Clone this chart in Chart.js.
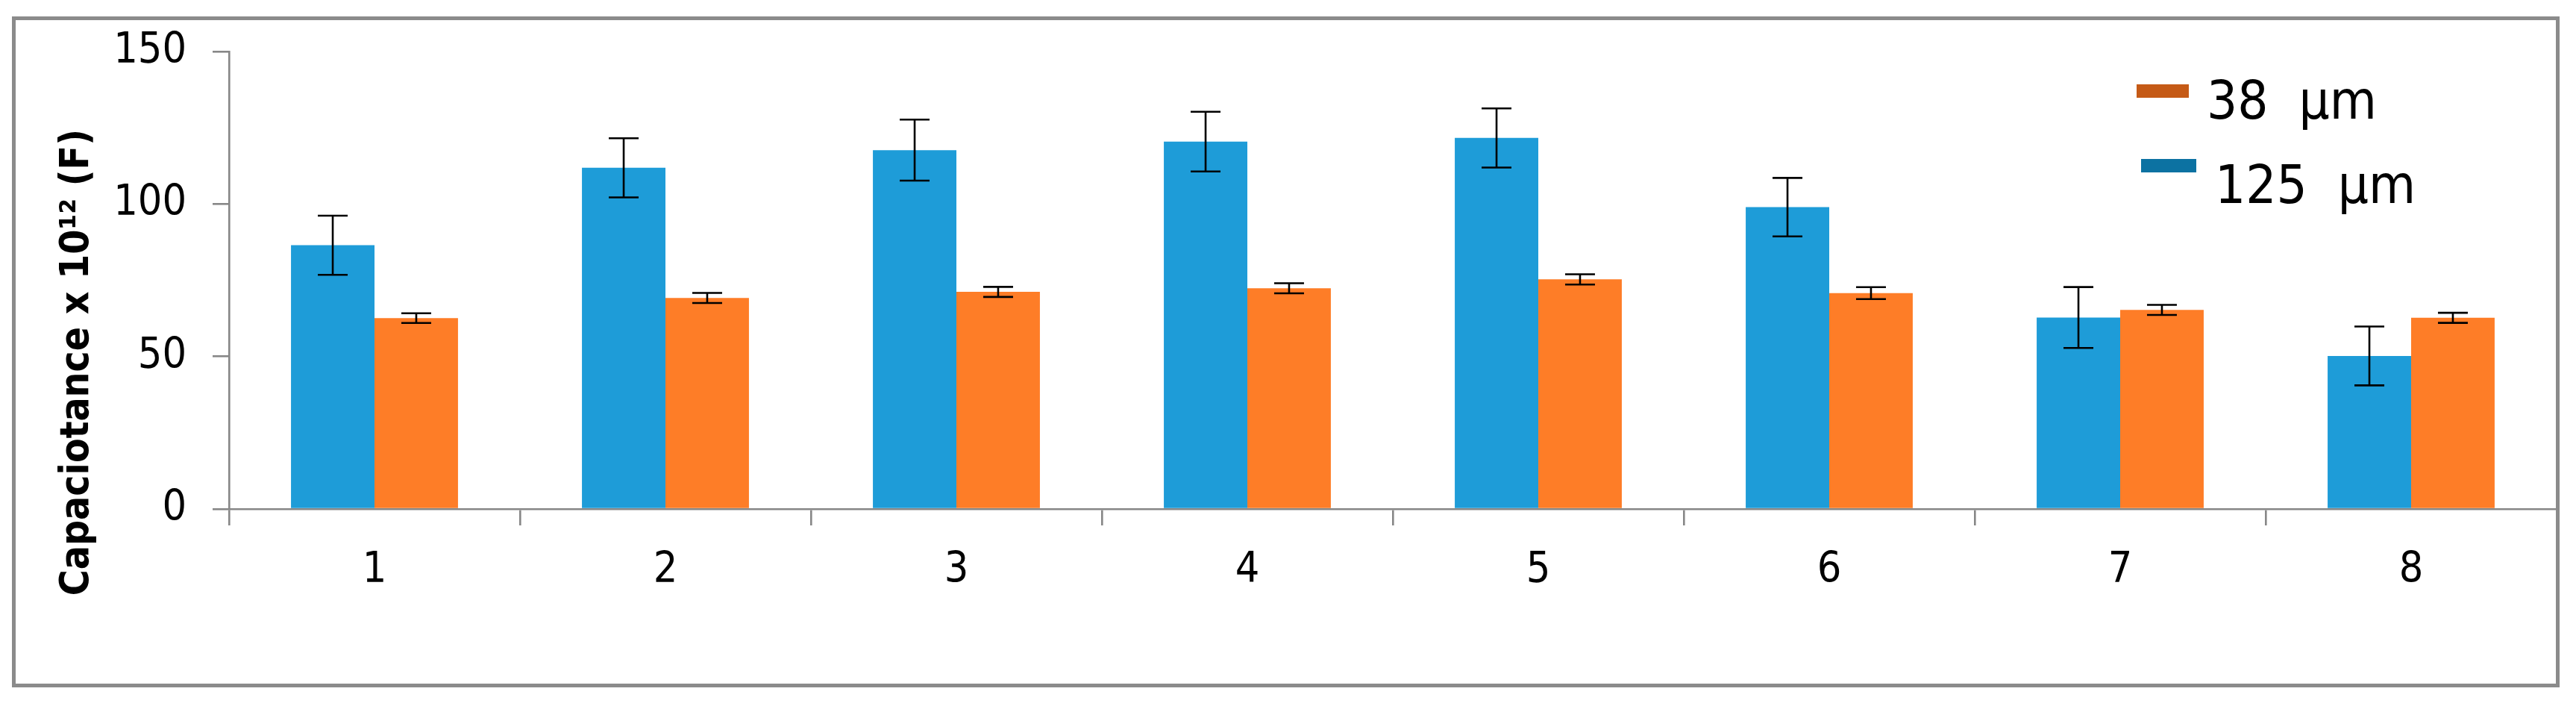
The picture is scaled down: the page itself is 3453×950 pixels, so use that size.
<!DOCTYPE html>
<html>
<head>
<meta charset="utf-8">
<script src="https://cdn.jsdelivr.net/npm/chart.js@4/dist/chart.umd.min.js"></script>
<style>
  html, body { margin: 0; padding: 0; background: #ffffff; }
  #wrap { width: 3453px; height: 950px; }
</style>
</head>
<body>
<div id="wrap"><canvas id="c" width="3453" height="950"></canvas></div>
<script>
// ---- data ----
const categories = ['1', '2', '3', '4', '5', '6', '7', '8'];
const series125Label = '125  µm';
const series38Label = '38  µm';
const values125 = [86.5, 111.9, 117.7, 120.5, 121.7, 99.0, 62.8, 50.2];
const errors125 = [9.7, 9.7, 10.0, 9.8, 9.7, 9.6, 10.0, 9.65];
const values38 = [62.6, 69.2, 71.2, 72.4, 75.3, 70.8, 65.3, 62.7];
const errors38 = [1.6, 1.65, 1.65, 1.65, 1.7, 1.95, 1.65, 1.65];
const yTicks = [0, 50, 100, 150];
const yTitle = 'Capaciotance x 10¹² (F)';

// ---- styles ----
const FONT = "'DejaVu Sans Condensed', 'DejaVu Sans', sans-serif";
const AXIS_GRAY = '#878787';
const BLUE = '#1e9cd8';
const ORANGE = '#fe7d27';
const LEGEND_BLUE = '#0c72a2';
const LEGEND_ORANGE = '#c55a16';

const bgPlugin = {
  id: 'bg',
  beforeDraw(chart) {
    const ctx = chart.ctx;
    ctx.save();
    ctx.fillStyle = '#ffffff';
    ctx.fillRect(0, 0, chart.width, chart.height);
    ctx.restore();
  },
  afterDraw(chart) {
    const ctx = chart.ctx;
    ctx.save();
    ctx.strokeStyle = '#8b8b8b';
    ctx.lineWidth = 5;
    ctx.strokeRect(18.5, 24.5, 3410, 894);
    ctx.restore();
  }
};

const errorBarPlugin = {
  id: 'errorBars',
  afterDatasetsDraw(chart) {
    const ctx = chart.ctx;
    const yScale = chart.scales.y;
    ctx.save();
    ctx.strokeStyle = '#000000';
    ctx.lineWidth = 2.6;
    chart.data.datasets.forEach((ds, i) => {
      const meta = chart.getDatasetMeta(i);
      meta.data.forEach((bar, j) => {
        const v = ds.data[j];
        const e = ds.errors[j];
        const x = bar.x;
        const yTop = yScale.getPixelForValue(v + e);
        const yBot = yScale.getPixelForValue(v - e);
        const half = 20;
        ctx.beginPath();
        ctx.moveTo(x, yTop); ctx.lineTo(x, yBot);
        ctx.moveTo(x - half, yTop); ctx.lineTo(x + half, yTop);
        ctx.moveTo(x - half, yBot); ctx.lineTo(x + half, yBot);
        ctx.stroke();
      });
    });
    ctx.restore();
  }
};

// legend entries in the order shown (38 first, then 125)
const legendItems = [
  { datasetIndex: 1, color: LEGEND_ORANGE, box: [2864, 113, 70, 18], text: [2958, 159] },
  { datasetIndex: 0, color: LEGEND_BLUE, box: [2870, 213, 74, 18], text: [2969, 272] }
];
const legendPlugin = {
  id: 'customLegend',
  afterDraw(chart) {
    const ctx = chart.ctx;
    ctx.save();
    ctx.font = '72px ' + FONT;
    ctx.textBaseline = 'alphabetic';
    ctx.textAlign = 'left';
    legendItems.forEach(it => {
      const ds = chart.data.datasets[it.datasetIndex];
      ctx.fillStyle = it.color;
      ctx.fillRect(it.box[0], it.box[1], it.box[2], it.box[3]);
      ctx.fillStyle = '#000000';
      ctx.fillText(ds.label, it.text[0], it.text[1]);
    });
    ctx.restore();
  }
};

const TITLE_SHIFT = 110;

new Chart(document.getElementById('c'), {
  type: 'bar',
  data: {
    labels: categories,
    datasets: [
      { label: series125Label, data: values125, errors: errors125, backgroundColor: BLUE, borderWidth: 0 },
      { label: series38Label, data: values38, errors: errors38, backgroundColor: ORANGE, borderWidth: 0 }
    ]
  },
  options: {
    responsive: false,
    animation: false,
    devicePixelRatio: 1,
    layout: { padding: { left: 68, right: 26, top: 62, bottom: 118 } },
    datasets: { bar: { categoryPercentage: 0.574, barPercentage: 1.0 } },
    plugins: { legend: { display: false }, tooltip: { enabled: false } },
    scales: {
      x: {
        grid: { display: true, drawOnChartArea: false, drawTicks: true, tickLength: 22, color: AXIS_GRAY, lineWidth: 2.6, offset: true },
        border: { display: true, color: AXIS_GRAY, width: 2.6 },
        ticks: { color: '#000000', font: { family: FONT, size: 57 }, padding: 27, autoSkip: false, maxRotation: 0 },
        afterFit(scale) { scale.height = 150; }
      },
      y: {
        min: 0, max: 150,
        afterBuildTicks(scale) { scale.ticks = yTicks.map(v => ({ value: v })); },
        grid: { display: true, drawOnChartArea: false, drawTicks: true, tickLength: 22, color: AXIS_GRAY, lineWidth: 2.6 },
        border: { display: true, color: AXIS_GRAY, width: 2.6 },
        ticks: { color: '#000000', font: { family: FONT, size: 57 }, padding: 35 },
        title: { display: true, text: yTitle, color: '#000000', font: { family: FONT, size: 53, weight: 'bold' }, padding: { top: 4, bottom: 4 } },
        afterFit(scale) {
          scale.width = 239;
          if (!scale._titlePatched) {
            const orig = scale.drawTitle;
            scale.drawTitle = function () {
              const ctx = this.ctx;
              ctx.save();
              ctx.translate(0, TITLE_SHIFT);
              orig.call(this);
              ctx.restore();
            };
            scale._titlePatched = true;
          }
        }
      }
    }
  },
  plugins: [bgPlugin, errorBarPlugin, legendPlugin]
});
</script>
</body>
</html>
